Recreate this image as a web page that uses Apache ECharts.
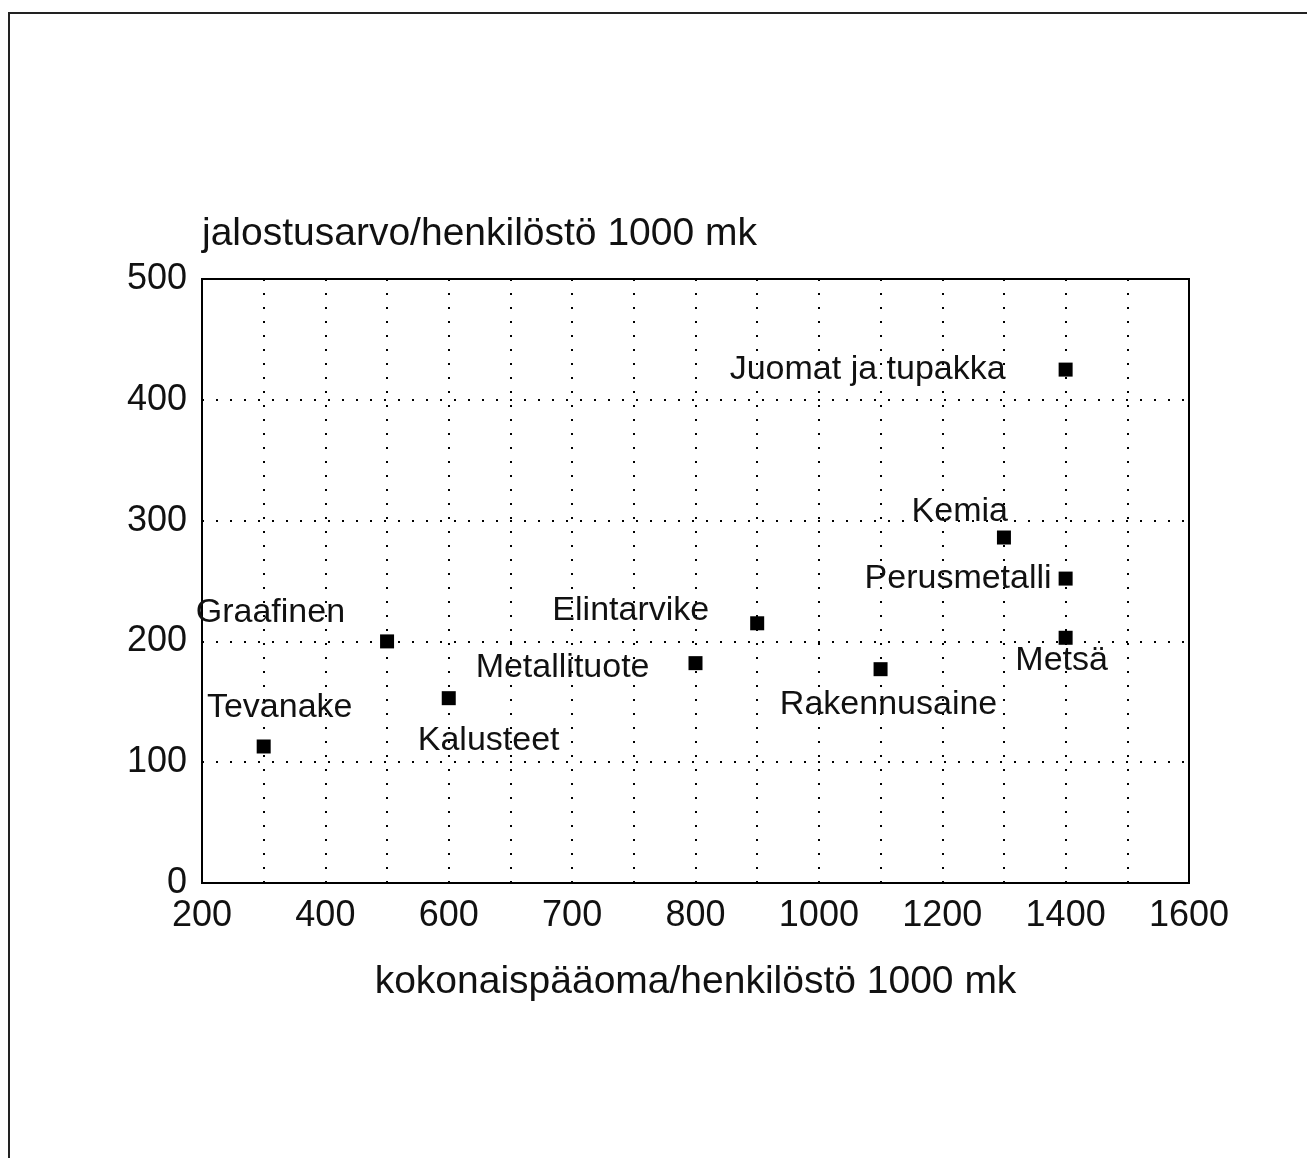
<!DOCTYPE html>
<html>
<head>
<meta charset="utf-8">
<script src="https://cdn.jsdelivr.net/npm/echarts@6/dist/echarts.min.js"></script>
<style>
  html, body { margin: 0; padding: 0; background: #fff; }
  #chart { width: 1307px; height: 1158px; }
</style>
</head>
<body>
<div id="chart"></div>
<script>
// toimialat
var names = ["Tevanake", "Graafinen", "Kalusteet", "Metallituote", "Elintarvike",
  "Rakennusaine", "Kemia", "Perusmetalli", "Metsä", "Juomat ja tupakka"];
// x-paikka akselin jakovälein (0 = 200, 1 = 400, ... 8 = 1600)
var xSlot = [0.5, 1.5, 2, 4, 4.5, 5.5, 6.5, 7, 7, 7];
// jalostusarvo/henkilöstö 1000 mk
var yValue = [113, 200, 153, 182, 215, 177, 286, 252, 203, 425];
// x-akselin merkinnät
var xTickLabels = ["200", "400", "600", "700", "800", "1000", "1200", "1400", "1600"];

// nimien paikat pisteen suhteen: [align, dx, dy]
var labelPos = [
  ["center", 16, -39],
  ["right", -42, -29],
  ["left", -31, 42],
  ["right", -46, 4],
  ["right", -48, -13],
  ["center", 8, 35],
  ["right", 4, -26],
  ["right", -14, 0],
  ["center", -4, 23],
  ["right", -60, 0]
];

var font = "'Liberation Sans', Arial, Helvetica, sans-serif";

var points = names.map(function (n, i) {
  return {
    name: n,
    value: [xSlot[i], yValue[i]],
    label: {
      show: true,
      formatter: n,
      position: "inside",
      align: labelPos[i][0],
      verticalAlign: "middle",
      offset: [labelPos[i][1], labelPos[i][2]]
    }
  };
});

var chart = echarts.init(document.getElementById("chart"));
var option = {
  backgroundColor: "#fff",
  animation: false,
  textStyle: { fontFamily: font, color: "#111" },
  graphic: [
    { type: "line", shape: { x1: 9, y1: 13, x2: 1307, y2: 13 }, style: { stroke: "#222", lineWidth: 2 } },
    { type: "line", shape: { x1: 9, y1: 12, x2: 9, y2: 1158 }, style: { stroke: "#222", lineWidth: 2 } }
  ],
  grid: {
    left: 202, top: 279, width: 987, height: 604,
    show: true, borderColor: "#000", borderWidth: 2, backgroundColor: "transparent"
  },
  xAxis: {
    type: "value",
    min: 0, max: 8, interval: 0.5,
    name: "kokonaispääoma/henkilöstö 1000 mk",
    nameLocation: "middle",
    nameGap: 80,
    nameTextStyle: { fontSize: 39, color: "#111", fontFamily: font },
    axisLine: { lineStyle: { color: "#000", width: 2 } },
    axisTick: { show: false },
    axisLabel: {
      fontSize: 36, color: "#111", margin: 15,
      formatter: function (v) {
        return Number.isInteger(v) ? xTickLabels[v] : "";
      }
    },
    splitLine: { show: true, lineStyle: { color: "#000", width: 2, type: [2, 12] } }
  },
  yAxis: {
    type: "value",
    min: 0, max: 500, interval: 100,
    name: "jalostusarvo/henkilöstö 1000 mk",
    nameLocation: "end",
    nameGap: 45,
    nameTextStyle: { fontSize: 39, color: "#111", align: "left", verticalAlign: "middle", fontFamily: font },
    axisLine: { lineStyle: { color: "#000", width: 2 } },
    axisTick: { show: false },
    axisLabel: { fontSize: 36, color: "#111", margin: 15 },
    splitLine: { show: true, lineStyle: { color: "#000", width: 2, type: [2, 12] } }
  },
  series: [{
    type: "scatter",
    symbol: "rect",
    symbolSize: 14,
    itemStyle: { color: "#000", opacity: 1 },
    label: { fontSize: 34, color: "#111", fontFamily: font },
    data: points
  }]
};
chart.setOption(option);
window.addEventListener("resize", function () { chart.resize(); });
</script>
</body>
</html>
